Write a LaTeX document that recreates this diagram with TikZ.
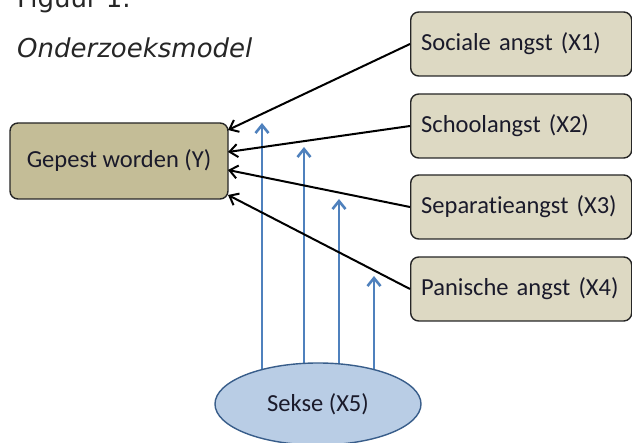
\documentclass[tikz,border=0pt]{standalone}
\usepackage{fontspec}
\setmainfont{Carlito}[Ligatures=NoCommon]
\newfontfamily\titlefont{DejaVu Sans}
\usetikzlibrary{arrows.meta,shapes.geometric,backgrounds}
\definecolor{tandark}{HTML}{C4BD97}
\definecolor{tanlight}{HTML}{DDD9C3}
\definecolor{blfill}{HTML}{B9CDE5}
\definecolor{blline}{HTML}{385D8A}
\definecolor{blarrow}{HTML}{4F81BD}
\definecolor{txt}{HTML}{1A1A2A}
\begin{document}
\begin{tikzpicture}[x=1pt,y=-1pt,
  xbox/.style={draw=black!85, line width=1.4pt, rounded corners=8pt, fill=tanlight, text=txt,
    font=\fontsize{24.5}{28}\selectfont, minimum width=221pt, minimum height=64pt, anchor=west, align=left, text width=200pt, inner xsep=10.5pt},
  ybox/.style={draw=black!85, line width=1.4pt, rounded corners=8pt, fill=tandark, text=txt,
    font=\fontsize{24.5}{28}\selectfont, minimum width=218pt, minimum height=76pt},
  blarr/.style={draw=blarrow, line width=2.6pt, -{Straight Barb[length=8pt,width=13pt]}},
  bkarr/.style={draw=black, line width=2pt, -{Straight Barb[length=8pt,width=13pt]}},
  ttl/.style={font=\titlefont\fontsize{26}{30}\selectfont, text=black!85, anchor=base west, inner sep=0pt}]
\useasboundingbox (0,0) rectangle (632,443);
\node[ttl] (fig) at (17,8) {Figuur 1.};
\node[ttl, font=\titlefont\itshape\fontsize{26}{30}\selectfont] (om) at (17,58) {Onderzoeksmodel};
\node[ybox] (y) at (119,161) {Gepest worden (Y)};
\node[xbox] (x1) at (410,44) {Sociale angst (X1)};
\node[xbox] (x2) at (410,126) {Schoolangst (X2)};
\node[xbox] (x3) at (410,207) {Separatieangst (X3)};
\node[xbox] (x4) at (410,289) {Panische angst (X4)};
\node[ellipse, draw=blline, line width=1.4pt, fill=blfill, text=txt, minimum width=206pt, minimum height=82pt,
  font=\fontsize{24.5}{28}\selectfont] (s) at (318,404) {Sekse (X5)};
\coordinate (y1) at (228,130);
\coordinate (y2) at (228,152);
\coordinate (y3) at (228,170);
\coordinate (y4) at (228,195);
\coordinate (t1) at (262,123);
\coordinate (t2) at (304,147);
\coordinate (t3) at (339,199);
\coordinate (t4) at (374,276);
\draw[bkarr] (x1.west) -- (y1);
\draw[bkarr] (x2.west) -- (y2);
\draw[bkarr] (x3.west) -- (y3);
\draw[bkarr] (x4.west) -- (y4);
\begin{scope}[on background layer]
\draw[blarr] (t1 |- s.center) -- (t1);
\draw[blarr] (t2 |- s.center) -- (t2);
\draw[blarr] (t3 |- s.center) -- (t3);
\draw[blarr] (t4 |- s.center) -- (t4);
\end{scope}
\end{tikzpicture}
\end{document}
